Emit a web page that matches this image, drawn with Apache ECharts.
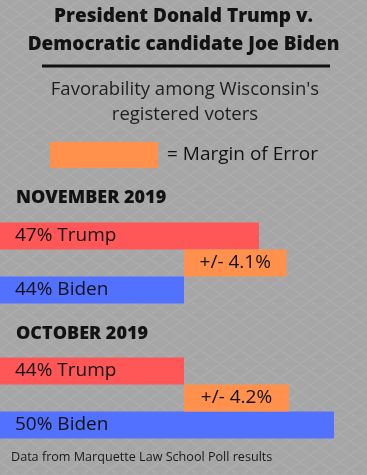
<!DOCTYPE html>
<html>
<head>
<meta charset="utf-8">
<script src="https://cdn.jsdelivr.net/npm/echarts@6/dist/echarts.min.js"></script>
<style>
html,body{margin:0;padding:0;background:#a6a6a6;}
#c{width:367px;height:475px;}
</style>
</head>
<body>
<div id="c"></div>
<script>
// ---- data ----
var months = ['NOVEMBER 2019', 'OCTOBER 2019'];
var candidates = ['Trump', 'Biden'];
var trump = [47, 44];
var biden = [44, 50];
var marginOfError = [4.1, 4.2];
var titleLines = ['President Donald Trump v.', 'Democratic candidate Joe Biden'];
var subtitleLines = ["Favorability among Wisconsin's", 'registered voters'];
var sourceNote = 'Data from Marquette Law School Poll results';

// ---- build rows: per month [Trump, MoE, Biden], two spacer rows between months ----
var rows = [], trumpData = [], bidenData = [], baseData = [], moeData = [];
months.forEach(function (m, i) {
  if (i > 0) {
    for (var k = 0; k < 2; k++) {
      rows.push('gap' + i + k);
      trumpData.push('-'); bidenData.push('-'); baseData.push('-'); moeData.push('-');
    }
  }
  rows.push(m + ' T'); trumpData.push(trump[i]); bidenData.push('-'); baseData.push('-'); moeData.push('-');
  rows.push(m + ' M'); trumpData.push('-'); bidenData.push('-');
  baseData.push(Math.min(trump[i], biden[i])); moeData.push(marginOfError[i]);
  rows.push(m + ' B'); trumpData.push('-'); bidenData.push(biden[i]); baseData.push('-'); moeData.push('-');
});

// background lattice pattern
var tile = document.createElement('canvas');
tile.width = 20; tile.height = 14;
var tc = tile.getContext('2d');
tc.fillStyle = '#a6a6a6'; tc.fillRect(0, 0, 20, 14);
tc.strokeStyle = '#aeaeae'; tc.lineWidth = 1.2;
tc.beginPath(); tc.moveTo(0, 0); tc.lineTo(20, 14); tc.moveTo(20, 0); tc.lineTo(0, 14); tc.stroke();

var FONT = 'Open Sans';
var TXT = '#121212';
var chart = echarts.init(document.getElementById('c'), null, {renderer: 'canvas'});

var headingGraphics = months.map(function (m, i) {
  return {
    type: 'text', x: 16, y: i === 0 ? 198 : 333.5,
    style: {text: m, font: '800 18px "' + FONT + '"', fill: TXT, textVerticalAlign: 'middle'}
  };
});

chart.setOption({
  backgroundColor: {image: tile, repeat: 'repeat'},
  animation: false,
  title: {
    text: titleLines.join('\n'),
    left: 'center', top: 3,
    padding: 0,
    textStyle: {fontFamily: FONT, fontWeight: 800, fontSize: 19, color: TXT, lineHeight: 27.5}
  },
  legend: {
    data: [{name: 'Margin of Error', icon: 'rect'}],
    left: 50, top: 142, padding: 0,
    itemWidth: 108, itemHeight: 26,
    formatter: '= {name}',
    textStyle: {fontFamily: FONT, fontSize: 19, color: TXT, padding: [0, 0, 0, 4]},
    selectedMode: false
  },
  graphic: [
    {type: 'rect', shape: {x: 42, y: 64.5, width: 288, height: 3}, style: {fill: '#111'}},
    {type: 'text', x: 185, y: 89.5, style: {text: subtitleLines[0], font: '18.5px "' + FONT + '"', fill: '#1e1e1e', textAlign: 'center', textVerticalAlign: 'middle'}},
    {type: 'text', x: 185, y: 115, style: {text: subtitleLines[1], font: '18.5px "' + FONT + '"', fill: '#1e1e1e', textAlign: 'center', textVerticalAlign: 'middle'}},
    {type: 'text', x: 11, y: 457, style: {text: sourceNote, font: '12.6px "' + FONT + '"', fill: '#1a1a1a', textVerticalAlign: 'middle'}}
  ].concat(headingGraphics),
  grid: {left: 0, right: 0, top: 222.5, height: 216, containLabel: false},
  xAxis: {type: 'value', min: 36.64, max: 51.32, show: false, splitLine: {show: false}},
  yAxis: {type: 'category', data: rows, inverse: true, show: false},
  series: [
    {
      name: candidates[0], type: 'bar', data: trumpData, barWidth: 27, barGap: '-100%',
      itemStyle: {color: '#ff5757'},
      label: {show: true, position: 'insideLeft', distance: 15, formatter: function (p) { return p.value + '% ' + candidates[0]; },
        fontFamily: FONT, fontSize: 19, color: TXT}
    },
    {
      name: candidates[1], type: 'bar', data: bidenData, barWidth: 27, barGap: '-100%',
      itemStyle: {color: '#5271ff'},
      label: {show: true, position: 'insideLeft', distance: 15, formatter: function (p) { return p.value + '% ' + candidates[1]; },
        fontFamily: FONT, fontSize: 19, color: TXT}
    },
    {
      name: 'base', type: 'bar', stack: 'moe', data: baseData, barWidth: 27, barGap: '-100%',
      itemStyle: {color: 'rgba(0,0,0,0)'}, silent: true
    },
    {
      name: 'Margin of Error', type: 'bar', stack: 'moe', data: moeData, barWidth: 27, barGap: '-100%',
      itemStyle: {color: '#ff914d'},
      label: {show: true, position: 'inside', formatter: function (p) { return '+/- ' + p.value + '%'; },
        fontFamily: FONT, fontSize: 19, color: TXT}
    }
  ]
});
</script>
</body>
</html>
